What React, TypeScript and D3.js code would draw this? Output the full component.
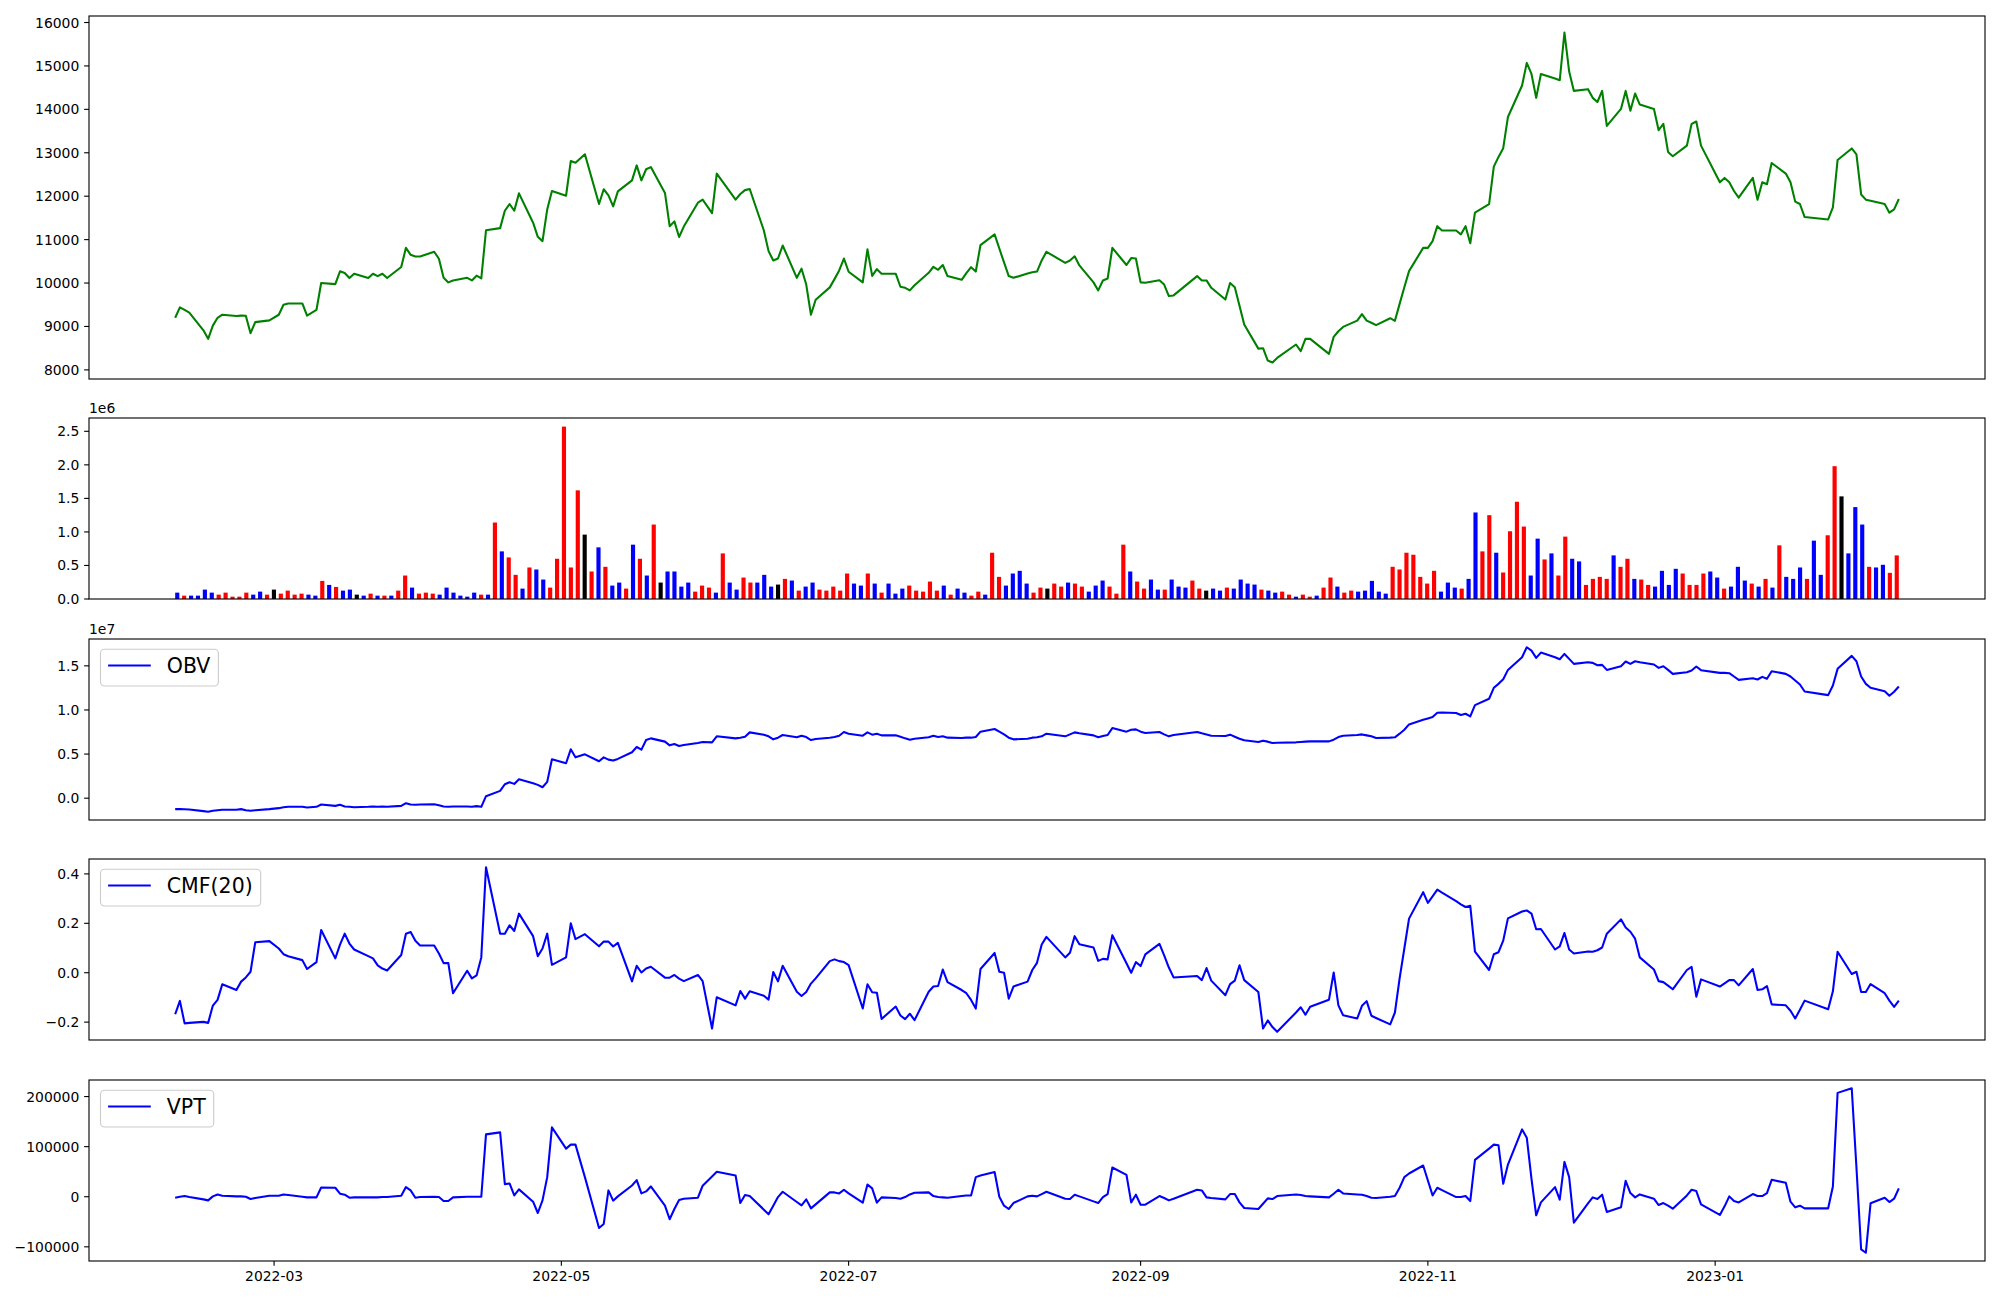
import React from 'react';
import * as d3 from 'd3';

// ---------------- DATA ----------------
const TRADING_DAYS: [string, number[]][] = [
  ['2022-02', [8, 9, 10, 11, 14, 15, 16, 17, 18, 21, 22, 23, 24, 25, 28]],
  ['2022-03', [2, 3, 4, 7, 8, 10, 11, 14, 15, 16, 17, 18, 21, 22, 23, 24, 25, 28, 29, 30, 31]],
  ['2022-04', [1, 4, 5, 6, 7, 8, 11, 12, 13, 14, 15, 18, 19, 20, 21, 22, 25, 26, 27, 28, 29]],
  ['2022-05', [2, 3, 4, 6, 9, 10, 11, 12, 13, 16, 17, 18, 19, 20, 23, 24, 25, 26, 27, 30, 31]],
  ['2022-06', [2, 3, 7, 8, 9, 10, 13, 14, 15, 16, 17, 20, 21, 22, 23, 24, 27, 28, 29, 30]],
  ['2022-07', [1, 4, 5, 6, 7, 8, 11, 12, 13, 14, 15, 18, 19, 20, 21, 22, 25, 26, 27, 28, 29]],
  ['2022-08', [1, 2, 3, 4, 5, 8, 9, 10, 11, 12, 16, 17, 18, 19, 22, 23, 24, 25, 26, 29, 30, 31]],
  ['2022-09', [1, 2, 5, 6, 7, 8, 13, 14, 15, 16, 19, 20, 21, 22, 23, 26, 27, 28, 29, 30]],
  ['2022-10', [4, 5, 6, 7, 11, 12, 13, 14, 17, 18, 19, 20, 21, 24, 25, 26, 27, 28, 31]],
  ['2022-11', [1, 2, 3, 4, 7, 8, 9, 10, 11, 14, 15, 16, 17, 18, 21, 22, 23, 24, 25, 28, 29, 30]],
  ['2022-12', [1, 2, 5, 6, 7, 8, 9, 12, 13, 14, 15, 16, 19, 20, 21, 22, 23, 26, 27, 28, 29]],
  ['2023-01', [2, 3, 4, 5, 6, 9, 10, 11, 12, 13, 16, 17, 18, 19, 20, 25, 26, 27, 30, 31]],
  ['2023-02', [1, 2, 3, 6, 7, 8, 9]],
];

const CLOSE = [
  9200, 9440, 9380, 9320, 8910, 8715, 9020, 9200, 9270, 9240,
  9250, 9245, 8845, 9100, 9140, 9270, 9500, 9530, 9530, 9250,
  9380, 10000, 9975, 10270, 10230, 10115, 10215, 10115, 10215, 10160,
  10215, 10115, 10370, 10810, 10650, 10610, 10610, 10720, 10560, 10120,
  10015, 10060, 10120, 10060, 10170, 10105, 11215, 11265, 11665, 11820,
  11665, 12065, 11390, 11065, 10965, 11695, 12120, 12010, 12810, 12770,
  12965, 11820, 12160, 12020, 11765, 12110, 12365, 12710, 12365, 12620,
  12670, 12075, 11310, 11420, 11060, 11300, 11850, 11920, 11610, 12520,
  11920, 12050, 12140, 12165, 11210, 10735, 10520, 10565, 10865, 10120,
  10330, 9965, 9270, 9615, 9900, 10090, 10290, 10565, 10260, 10015,
  10775, 10165, 10320, 10215, 10215, 9915, 9890, 9830, 9950, 10235,
  10375, 10305, 10415, 10160, 10075, 10230, 10365, 10265, 10875, 11120,
  10795, 10475, 10160, 10120, 10220, 10250, 10265, 10520, 10720, 10465,
  10520, 10615, 10405, 10015, 9830, 10060, 10105, 10810, 10415, 10575,
  10565, 10015, 10005, 10065, 9965, 9700, 9715, 10160, 10060, 10060,
  9890, 9620, 10000, 9905, 9475, 9045, 8490, 8500, 8215, 8170,
  8275, 8585, 8430, 8715, 8715, 8370, 8760, 8890, 8990, 9135,
  9285, 9135, 9085, 9030, 9190, 9130, 9520, 9905, 10275, 10810,
  10810, 10965, 11310, 11210, 11210, 11120, 11310, 10915, 11620, 11820,
  12680, 12905, 13105, 13825, 14550, 15070, 14815, 14265, 14815, 14710,
  14670, 15770, 14870, 14425, 14465, 14265, 14170, 14425, 13620, 14010,
  14425, 13970, 14365, 14110, 14010, 13520, 13665, 13020, 12920, 13165,
  13665, 13720, 13165, 12320, 12420, 12320, 12120, 11965, 12420, 11920,
  12320, 12275, 12765, 12520, 12320, 11875, 11820, 11520, 11465, 11740,
  12835, 13100, 12965, 12040, 11920, 11895, 11820, 11620, 11695, 11935,
];

// volume in millions of shares
const VOLUME_M = [
  0.095, 0.05, 0.05, 0.05, 0.14, 0.095, 0.065, 0.095, 0.035, 0.035,
  0.095, 0.065, 0.11, 0.065, 0.14, 0.08, 0.125, 0.065, 0.08, 0.065,
  0.05, 0.27, 0.21, 0.18, 0.125, 0.14, 0.065, 0.05, 0.08, 0.05,
  0.05, 0.05, 0.125, 0.35, 0.17, 0.08, 0.095, 0.08, 0.065, 0.17,
  0.095, 0.05, 0.035, 0.095, 0.065, 0.065, 1.14, 0.71, 0.62, 0.36,
  0.155, 0.47, 0.44, 0.29, 0.17, 0.6, 2.57, 0.47, 1.62, 0.96,
  0.41, 0.77, 0.48, 0.2, 0.245, 0.155, 0.81, 0.6, 0.35, 1.11,
  0.245, 0.41, 0.41, 0.185, 0.245, 0.11, 0.2, 0.17, 0.095, 0.68,
  0.245, 0.14, 0.32, 0.245, 0.245, 0.36, 0.185, 0.215, 0.3, 0.275,
  0.125, 0.185, 0.245, 0.14, 0.125, 0.185, 0.125, 0.38, 0.23, 0.2,
  0.38, 0.23, 0.095, 0.23, 0.08, 0.155, 0.2, 0.125, 0.11, 0.26,
  0.125, 0.2, 0.065, 0.155, 0.095, 0.05, 0.11, 0.065, 0.69, 0.33,
  0.2, 0.38, 0.42, 0.23, 0.095, 0.17, 0.155, 0.23, 0.185, 0.245,
  0.23, 0.185, 0.11, 0.2, 0.275, 0.185, 0.08, 0.81, 0.41, 0.26,
  0.155, 0.29, 0.14, 0.14, 0.29, 0.185, 0.17, 0.275, 0.155, 0.125,
  0.155, 0.125, 0.17, 0.155, 0.29, 0.23, 0.215, 0.14, 0.125, 0.095,
  0.11, 0.065, 0.035, 0.065, 0.035, 0.05, 0.17, 0.32, 0.185, 0.095,
  0.125, 0.11, 0.125, 0.27, 0.11, 0.08, 0.48, 0.44, 0.69, 0.66,
  0.33, 0.23, 0.42, 0.11, 0.245, 0.17, 0.155, 0.3, 1.29, 0.71,
  1.25, 0.69, 0.395, 1.01, 1.45, 1.08, 0.35, 0.9, 0.59, 0.68,
  0.35, 0.93, 0.6, 0.56, 0.21, 0.3, 0.33, 0.3, 0.65, 0.48,
  0.6, 0.3, 0.29, 0.21, 0.185, 0.42, 0.21, 0.45, 0.38, 0.21,
  0.21, 0.38, 0.41, 0.32, 0.155, 0.185, 0.48, 0.275, 0.23, 0.185,
  0.3, 0.17, 0.8, 0.33, 0.3, 0.47, 0.3, 0.87, 0.36, 0.95,
  1.98, 1.53, 0.68, 1.37, 1.11, 0.48, 0.47, 0.51, 0.39, 0.65,
];

// candle direction per day: r = up, b = down, k = unchanged
const VOLUME_DIR =
  'brbbbbrrrr' + 'rbbrkrrrrb' + 'brbrbbkbrb' + 'rbrrbrrrbb' + 'bbbbrbrbrr' +
  'brbbrrrrrk' + 'rbrbbrbrbr' + 'kbbbbrrrbr' + 'bbrrbbbkrb' + 'rbbrrrrrbb' +
  'rbrbbbrrrr' + 'rbrbbrrbrr' + 'bbbbrrkrrb' + 'rrbbbrrrbr' + 'rbbrbbbrrk' +
  'bbrbbbbrbb' + 'rrbrrbrrbr' + 'rbbbbbrrrr' + 'rrrbbbrbbr' + 'rbrrrrbbrb' +
  'rrbbrrrrbr' + 'rbrrbbbbrr' + 'rrbbrbbbrb' + 'rbrbbbrbbr' + 'rkbbbrbbrr';

// OBV in units of 1e7
const OBV_E7 = [
  -0.124, -0.124, -0.125, -0.128, -0.147, -0.154, -0.143, -0.136, -0.132, -0.132,
  -0.124, -0.136, -0.143, -0.136, -0.124, -0.113, -0.102, -0.098, -0.098, -0.105,
  -0.098, -0.072, -0.087, -0.075, -0.094, -0.098, -0.102, -0.098, -0.094, -0.098,
  -0.094, -0.098, -0.087, -0.057, -0.072, -0.075, -0.072, -0.068, -0.079, -0.094,
  -0.098, -0.094, -0.094, -0.098, -0.09, -0.098, 0.023, 0.083, 0.158, 0.181,
  0.162, 0.215, 0.17, 0.151, 0.124, 0.185, 0.441, 0.396, 0.554, 0.463,
  0.497, 0.418, 0.463, 0.437, 0.426, 0.445, 0.52, 0.58, 0.55, 0.659,
  0.678, 0.641, 0.599, 0.614, 0.592, 0.603, 0.625, 0.637, 0.633, 0.701,
  0.678, 0.686, 0.697, 0.746, 0.72, 0.701, 0.667, 0.686, 0.716, 0.69,
  0.708, 0.693, 0.659, 0.671, 0.686, 0.693, 0.708, 0.75, 0.731, 0.708,
  0.746, 0.72, 0.731, 0.712, 0.712, 0.697, 0.678, 0.663, 0.674, 0.69,
  0.708, 0.693, 0.701, 0.686, 0.682, 0.686, 0.686, 0.693, 0.754, 0.784,
  0.754, 0.723, 0.686, 0.667, 0.674, 0.686, 0.69, 0.701, 0.731, 0.701,
  0.723, 0.746, 0.735, 0.712, 0.69, 0.705, 0.716, 0.795, 0.754, 0.776,
  0.78, 0.754, 0.739, 0.75, 0.723, 0.701, 0.716, 0.75, 0.735, 0.723,
  0.708, 0.705, 0.72, 0.697, 0.674, 0.656, 0.637, 0.652, 0.641, 0.625,
  0.629, 0.633, 0.637, 0.641, 0.644, 0.644, 0.663, 0.693, 0.708, 0.716,
  0.723, 0.712, 0.701, 0.682, 0.686, 0.69, 0.731, 0.776, 0.836, 0.889,
  0.904, 0.919, 0.968, 0.972, 0.965, 0.942, 0.957, 0.927, 1.055, 1.127,
  1.251, 1.296, 1.349, 1.454, 1.598, 1.711, 1.673, 1.59, 1.65, 1.598,
  1.575, 1.635, 1.579, 1.522, 1.541, 1.534, 1.507, 1.511, 1.454, 1.496,
  1.549, 1.522, 1.552, 1.541, 1.515, 1.477, 1.496, 1.454, 1.409, 1.428,
  1.447, 1.492, 1.451, 1.42, 1.42, 1.417, 1.379, 1.341, 1.36, 1.345,
  1.375, 1.353, 1.439, 1.409, 1.379, 1.334, 1.289, 1.209, 1.168, 1.277,
  1.466, 1.613, 1.552, 1.379, 1.296, 1.251, 1.213, 1.161, 1.206, 1.266,
];

const CMF20 = [
  -0.168, -0.114, -0.205, -0.203, -0.199, -0.203, -0.133, -0.11, -0.047, -0.07,
  -0.036, -0.019, 0.004, 0.123, 0.128, 0.098, 0.075, 0.067, 0.051, 0.015,
  0.043, 0.173, 0.058, 0.114, 0.158, 0.118, 0.094, 0.067, 0.058, 0.03,
  0.017, 0.009, 0.072, 0.158, 0.165, 0.129, 0.11, 0.11, 0.078, 0.039,
  0.039, -0.083, 0.008, -0.023, -0.011, 0.062, 0.427, 0.158, 0.158, 0.192,
  0.169, 0.239, 0.148, 0.067, 0.098, 0.158, 0.032, 0.062, 0.2, 0.136,
  0.156, 0.107, 0.126, 0.126, 0.106, 0.121, -0.035, 0.028, 0.001, 0.017,
  0.024, -0.02, -0.02, -0.009, -0.024, -0.034, -0.009, -0.034, -0.226, -0.099,
  -0.132, -0.074, -0.105, -0.075, -0.093, -0.109, 0.003, -0.035, 0.028, -0.077,
  -0.094, -0.078, -0.044, -0.023, 0.047, 0.054, 0.047, 0.043, 0.031, -0.145,
  -0.047, -0.079, -0.081, -0.187, -0.137, -0.173, -0.188, -0.166, -0.192, -0.077,
  -0.056, -0.054, 0.013, -0.038, -0.07, -0.083, -0.11, -0.145, 0.015, 0.08,
  0.004, 0.0, -0.105, -0.056, -0.036, 0.011, 0.04, 0.114, 0.145, 0.062,
  0.081, 0.148, 0.115, 0.102, 0.048, 0.056, 0.054, 0.152, 0.038, 0.0,
  0.043, 0.027, 0.074, 0.117, 0.07, 0.021, -0.019, -0.013, -0.03, 0.019,
  -0.032, -0.091, -0.046, -0.032, 0.03, -0.03, -0.078, -0.226, -0.193, -0.22,
  -0.239, -0.161, -0.14, -0.17, -0.138, -0.109, 0.001, -0.132, -0.172, -0.185,
  -0.134, -0.115, -0.174, -0.183, -0.209, -0.161, -0.023, 0.098, 0.219, 0.326,
  0.283, 0.309, 0.336, 0.324, 0.29, 0.277, 0.266, 0.271, 0.085, 0.011,
  0.075, 0.083, 0.13, 0.22, 0.248, 0.252, 0.239, 0.176, 0.177, 0.094,
  0.107, 0.161, 0.094, 0.078, 0.086, 0.085, 0.091, 0.102, 0.158, 0.216,
  0.183, 0.166, 0.138, 0.062, 0.013, -0.034, -0.038, -0.052, -0.067, 0.011,
  0.024, -0.097, -0.027, -0.056, -0.043, -0.03, -0.03, -0.051, 0.015, -0.07,
  -0.067, -0.054, -0.128, -0.132, -0.154, -0.185, -0.15, -0.113, -0.148, -0.075,
  0.085, -0.005, 0.004, -0.078, -0.078, -0.046, -0.083, -0.113, -0.138, -0.113,
];

// VPT in units of 1e5
const VPT_E5 = [
  -0.02, 0.0, 0.013, -0.007, -0.053, -0.073, 0.007, 0.046, 0.02, 0.007,
  0.007, 0.0, -0.046, -0.026, 0.02, 0.02, 0.046, 0.033, 0.0, -0.013,
  -0.013, 0.185, 0.179, 0.06, 0.04, -0.02, -0.013, -0.013, -0.013, -0.013,
  -0.007, -0.007, 0.02, 0.192, 0.126, -0.02, -0.007, 0.0, -0.007, -0.086,
  -0.086, -0.013, 0.0, 0.0, 0.0, 0.0, 1.245, 1.285, 0.252, 0.265,
  0.026, 0.146, -0.099, -0.325, -0.073, 0.391, 1.384, 0.96, 1.04, 1.04,
  0.391, -0.623, -0.543, 0.126, -0.079, 0.007, 0.225, 0.331, 0.066, 0.106,
  0.205, -0.179, -0.45, -0.245, -0.066, -0.04, -0.02, 0.219, 0.404, 0.497,
  0.424, -0.126, 0.033, 0.013, -0.258, -0.351, -0.179, -0.007, 0.099, -0.106,
  -0.172, -0.053, -0.232, -0.152, 0.086, 0.086, 0.066, 0.139, 0.066, -0.119,
  0.245, 0.166, -0.119, -0.013, -0.026, -0.04, -0.007, 0.046, 0.079, 0.086,
  0.013, -0.007, -0.013, -0.02, 0.013, 0.026, 0.026, 0.391, 0.424, 0.493,
  0.0, -0.179, -0.245, -0.126, 0.007, 0.02, 0.007, 0.053, 0.099, -0.04,
  -0.046, 0.04, 0.007, -0.093, -0.126, -0.007, 0.053, 0.583, 0.437, -0.113,
  0.04, -0.159, -0.159, 0.013, -0.026, -0.073, -0.04, 0.139, 0.126, -0.013,
  -0.026, -0.053, 0.053, 0.053, -0.113, -0.225, -0.245, -0.139, -0.033, -0.046,
  0.013, 0.046, 0.033, 0.013, 0.007, -0.013, 0.06, 0.139, 0.066, 0.046,
  0.04, 0.013, -0.02, -0.026, 0.0, 0.013, 0.179, 0.391, 0.464, 0.623,
  0.325, 0.026, 0.179, 0.132, -0.007, -0.007, 0.013, -0.086, 0.735, 0.96,
  1.04, 1.026, 0.258, 0.642, 1.344, 1.179, 0.358, -0.371, -0.113, 0.192,
  -0.06, 0.695, 0.391, -0.517, -0.132, -0.013, -0.046, 0.04, -0.305, -0.212,
  0.318, 0.073, -0.013, 0.046, -0.04, -0.166, -0.126, -0.179, -0.238, 0.026,
  0.139, 0.113, -0.152, -0.364, -0.192, 0.007, -0.086, -0.113, 0.053, 0.013,
  0.013, 0.073, 0.338, 0.278, -0.099, -0.212, -0.179, -0.232, -0.232, 0.205,
  2.073, 2.166, 0.589, -1.053, -1.119, -0.132, -0.02, -0.106, -0.04, 0.166,
];

const PRICE_TICKS = [8000, 9000, 10000, 11000, 12000, 13000, 14000, 15000, 16000];
const VOLUME_TICKS = [0, 500000, 1000000, 1500000, 2000000, 2500000];
const OBV_TICKS = [0, 5000000, 10000000, 15000000];
const CMF_TICKS = [-0.2, 0, 0.2, 0.4];
const VPT_TICKS = [-100000, 0, 100000, 200000];
const DATE_TICKS = ['2022-03-01', '2022-05-01', '2022-07-01', '2022-09-01', '2022-11-01', '2023-01-01'];

// ---------------- LAYOUT ----------------
const W = 2000;
const H = 1300;
const LEFT = 89;
const RIGHT = 1985;
const PANELS = [
  { top: 16, bottom: 379 },
  { top: 418, bottom: 599 },
  { top: 639, bottom: 820 },
  { top: 859, bottom: 1040 },
  { top: 1080, bottom: 1261 },
];
const FONT = 'DejaVu Sans, Liberation Sans, sans-serif';
const TICK_FS = 13.9;
const LEG_FS = 20.5;
const TICK_LEN = 4.86;
const TICK_PAD = 4.86;
const LW = 2.08;

const parse = d3.utcParse('%Y-%m-%d');
const DATES: Date[] = TRADING_DAYS.flatMap(([ym, days]) =>
  days.map((dd) => parse(`${ym}-${String(dd).padStart(2, '0')}`) as Date)
);

const minus = (s: string) => s.replace(/-/g, '\u2212');

function padded(vals: number[]): [number, number] {
  const lo = d3.min(vals) as number;
  const hi = d3.max(vals) as number;
  const p = (hi - lo) * 0.05;
  return [lo - p, hi + p];
}

let _ctx: CanvasRenderingContext2D | null = null;
function textWidth(t: string, fs: number) {
  if (!_ctx) _ctx = document.createElement('canvas').getContext('2d');
  if (!_ctx) return t.length * fs * 0.6;
  _ctx.font = `${fs}px "DejaVu Sans"`;
  return _ctx.measureText(t).width;
}

function YAxis({ scale, ticks, fmt }: { scale: d3.ScaleLinear<number, number>; ticks: number[]; fmt: (v: number) => string }) {
  return (
    <g>
      {ticks.map((t) => {
        const y = scale(t);
        return (
          <g key={t}>
            <line x1={LEFT - TICK_LEN} x2={LEFT} y1={y} y2={y} stroke="#000" strokeWidth={1.11} />
            <text
              x={LEFT - TICK_LEN - TICK_PAD}
              y={y + TICK_FS * 0.36}
              textAnchor="end"
              fontFamily={FONT}
              fontSize={TICK_FS}
              fill="#000"
            >
              {fmt(t)}
            </text>
          </g>
        );
      })}
    </g>
  );
}

function Frame({ top, bottom }: { top: number; bottom: number }) {
  return <rect x={LEFT} y={top} width={RIGHT - LEFT} height={bottom - top} fill="none" stroke="#000" strokeWidth={1.11} />;
}

function Legend({ top, label, color }: { top: number; label: string; color: string }) {
  const x0 = LEFT + 11.5;
  const y0 = top + 10.3;
  const tw = textWidth(label, LEG_FS);
  const w = 66.3 + tw + 8;
  const h = 36.7;
  return (
    <g>
      <rect x={x0} y={y0} width={w} height={h} rx={4} ry={4} fill="#fff" fillOpacity={0.8} stroke="#cccccc" strokeWidth={1.11} />
      <line x1={x0 + 7.6} x2={x0 + 50.3} y1={y0 + 16.2} y2={y0 + 16.2} stroke={color} strokeWidth={LW} />
      <text x={x0 + 66.3} y={y0 + 23.4} fontFamily={FONT} fontSize={LEG_FS} fill="#000">
        {label}
      </text>
    </g>
  );
}

export default function App() {
  const N = DATES.length;
  const t0 = DATES[0].getTime();
  const t1 = DATES[N - 1].getTime();
  const span = t1 - t0;
  const x = d3
    .scaleUtc()
    .domain([new Date(t0 - span * 0.05), new Date(t1 + span * 0.05)])
    .range([LEFT, RIGHT]);

  const BW = 0.6;
  const bandSpan = N - 1 + BW;
  const xi = d3
    .scaleLinear()
    .domain([-BW / 2 - bandSpan * 0.05, N - 1 + BW / 2 + bandSpan * 0.05])
    .range([LEFT, RIGHT]);

  const volume = VOLUME_M.map((v) => v * 1e6);
  const obv = OBV_E7.map((v) => v * 1e7);
  const vpt = VPT_E5.map((v) => v * 1e5);

  const yP = d3.scaleLinear().domain(padded(CLOSE)).range([PANELS[0].bottom, PANELS[0].top]);
  const yV = d3.scaleLinear().domain([0, (d3.max(volume) as number) * 1.05]).range([PANELS[1].bottom, PANELS[1].top]);
  const yO = d3.scaleLinear().domain(padded(obv)).range([PANELS[2].bottom, PANELS[2].top]);
  const yC = d3.scaleLinear().domain(padded(CMF20)).range([PANELS[3].bottom, PANELS[3].top]);
  const yT = d3.scaleLinear().domain(padded(vpt)).range([PANELS[4].bottom, PANELS[4].top]);

  const mkLine = (vals: number[], ys: d3.ScaleLinear<number, number>) =>
    d3
      .line<number>()
      .x((_, i) => x(DATES[i]))
      .y((v) => ys(v))(vals) || '';

  const dirColor: Record<string, string> = { r: '#ff0000', b: '#0000ff', k: '#000000' };
  const bw = xi(BW) - xi(0);

  const fmtTime = d3.utcFormat('%Y-%m');

  return (
    <svg
      width={W}
      height={H}
      viewBox={`0 0 ${W} ${H}`}
      style={{ position: 'absolute', left: 0, top: 0, background: '#fff' }}
    >
      <rect x={0} y={0} width={W} height={H} fill="#fff" />

      {/* Panel 1: close price */}
      <path d={mkLine(CLOSE, yP)} fill="none" stroke="#008000" strokeWidth={LW} strokeLinejoin="round" />
      <YAxis scale={yP} ticks={PRICE_TICKS} fmt={(v) => String(v)} />
      <Frame {...PANELS[0]} />

      {/* Panel 2: volume */}
      {volume.map((v, i) => (
        <rect
          key={i}
          x={xi(i) - bw / 2}
          y={yV(v)}
          width={bw}
          height={yV(0) - yV(v)}
          fill={dirColor[VOLUME_DIR[i]] || '#000'}
        />
      ))}
      <YAxis scale={yV} ticks={VOLUME_TICKS} fmt={(v) => (v / 1e6).toFixed(1)} />
      <text x={LEFT} y={PANELS[1].top - 5} fontFamily={FONT} fontSize={TICK_FS} fill="#000">
        1e6
      </text>
      <Frame {...PANELS[1]} />

      {/* Panel 3: OBV */}
      <path d={mkLine(obv, yO)} fill="none" stroke="#0000ff" strokeWidth={LW} strokeLinejoin="round" />
      <YAxis scale={yO} ticks={OBV_TICKS} fmt={(v) => minus((v / 1e7).toFixed(1))} />
      <text x={LEFT} y={PANELS[2].top - 5} fontFamily={FONT} fontSize={TICK_FS} fill="#000">
        1e7
      </text>
      <Frame {...PANELS[2]} />
      <Legend top={PANELS[2].top} label="OBV" color="#0000ff" />

      {/* Panel 4: CMF */}
      <path d={mkLine(CMF20, yC)} fill="none" stroke="#0000ff" strokeWidth={LW} strokeLinejoin="round" />
      <YAxis scale={yC} ticks={CMF_TICKS} fmt={(v) => minus(v.toFixed(1))} />
      <Frame {...PANELS[3]} />
      <Legend top={PANELS[3].top} label="CMF(20)" color="#0000ff" />

      {/* Panel 5: VPT */}
      <path d={mkLine(vpt, yT)} fill="none" stroke="#0000ff" strokeWidth={LW} strokeLinejoin="round" />
      <YAxis scale={yT} ticks={VPT_TICKS} fmt={(v) => minus(String(Math.round(v)))} />
      <Frame {...PANELS[4]} />
      <Legend top={PANELS[4].top} label="VPT" color="#0000ff" />

      {/* shared date axis on the bottom panel */}
      {DATE_TICKS.map((s) => {
        const d = parse(s) as Date;
        const px = x(d);
        return (
          <g key={s}>
            <line x1={px} x2={px} y1={PANELS[4].bottom} y2={PANELS[4].bottom + TICK_LEN} stroke="#000" strokeWidth={1.11} />
            <text
              x={px}
              y={PANELS[4].bottom + TICK_LEN + TICK_PAD + TICK_FS * 0.76}
              textAnchor="middle"
              fontFamily={FONT}
              fontSize={TICK_FS}
              fill="#000"
            >
              {fmtTime(d)}
            </text>
          </g>
        );
      })}
    </svg>
  );
}
